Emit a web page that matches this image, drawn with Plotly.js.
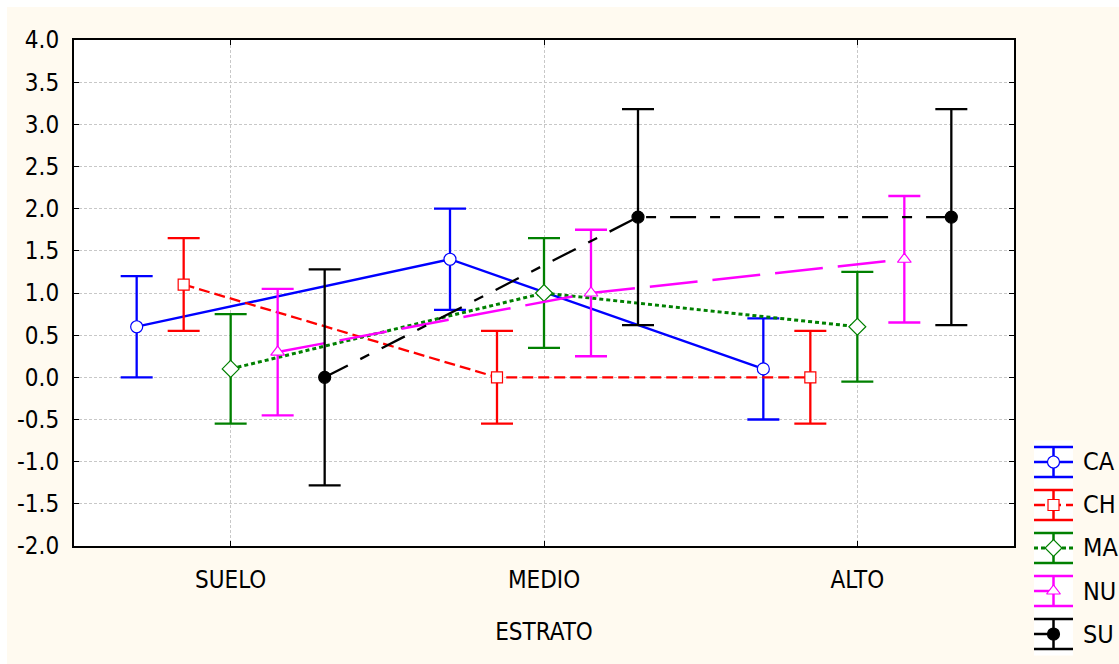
<!DOCTYPE html>
<html>
<head>
<meta charset="utf-8">
<script src="https://cdn.plot.ly/plotly-3.0.1.min.js"></script>
<style>
html,body{margin:0;padding:0;background:#ffffff;}
#chart{width:1119px;height:664px;}
</style>
</head>
<body>
<div id="chart"></div>
<script>
// ---- data ----
const categories = ["SUELO", "MEDIO", "ALTO"];
const seriesNames = ["CA", "CH", "MA", "NU", "SU"];
const meanCA = [0.6, 1.4, 0.1];
const errCA  = [0.6, 0.6, 0.6];
const meanCH = [1.1, 0.0, 0.0];
const errCH  = [0.55, 0.55, 0.55];
const meanMA = [0.1, 1.0, 0.6];
const errMA  = [0.65, 0.65, 0.65];
const meanNU = [0.3, 1.0, 1.4];
const errNU  = [0.75, 0.75, 0.75];
const meanSU = [0.0, 1.9, 1.9];
const errSU  = [1.28, 1.28, 1.28];
const yTickVals = [-2, -1.5, -1, -0.5, 0, 0.5, 1, 1.5, 2, 2.5, 3, 3.5, 4];

// ---- styles ----
const FONT = '"Liberation Sans Narrow", "Arial Narrow", "DejaVu Sans Condensed", "Liberation Sans", sans-serif';
const offsets = [-0.3, -0.15, 0, 0.15, 0.3];
const styles = [
  {color:'#0000ff', dash:'solid', width:2.3, symbol:'circle', fill:'#ffffff', size:12},
  {color:'#ff0000', dash:'11px,5px', width:2.3, symbol:'square', fill:'#ffffff', size:11},
  {color:'#008000', dash:'4px,3px', width:3, symbol:'diamond', fill:'#ffffff', size:13},
  {color:'#ff00ff', dash:'48px,15px', width:2.5, symbol:'triangle-up', fill:'#ffffff', size:12},
  {color:'#000000', dash:'26px,14px,10px,14px', width:2.3, symbol:'circle', fill:'#000000', size:12}
];
const means = [meanCA, meanCH, meanMA, meanNU, meanSU];
const errs = [errCA, errCH, errMA, errNU, errSU];

const traces = [];
means.forEach((m, i) => {
  const st = styles[i];
  traces.push({
    type:'scatter', mode:'lines+markers',
    x: categories.map((c, k) => k + offsets[i]),
    y: m,
    xaxis:'x', yaxis:'y',
    line:{color:st.color, dash:st.dash, width:st.width},
    marker:{symbol:st.symbol, size:st.size, color:st.fill, line:{color:st.color, width:1.2}},
    error_y:{type:'data', array:errs[i], visible:true, color:st.color, thickness:2.3, width:16},
    showlegend:false, hoverinfo:'skip', cliponaxis:false
  });
});

// ---- hand-built legend (error-bar symbols) ----
const legendLineX = [[0,0.5,1],[0,0.5,1],[0,0.5,1],[0,0.5],[0,0.5]];
const annotations = [];
seriesNames.forEach((name, i) => {
  const st = styles[i];
  traces.push({
    type:'scatter', mode:'lines', xaxis:'x2', yaxis:'y2',
    x: legendLineX[i], y: legendLineX[i].map(() => i),
    line:{color:st.color, dash:st.dash, width:st.width},
    showlegend:false, hoverinfo:'skip'
  });
  traces.push({
    type:'scatter', mode:'markers', xaxis:'x2', yaxis:'y2',
    x:[0.5], y:[i],
    marker:{symbol:st.symbol, size:st.size, color:st.fill, line:{color:st.color, width:1.2}},
    error_y:{type:'constant', value:0.35, visible:true, color:st.color, thickness:2.5, width:20},
    showlegend:false, hoverinfo:'skip', cliponaxis:false
  });
  annotations.push({
    xref:'x2', yref:'y2', x:1, y:i, xanchor:'left', yanchor:'middle', xshift:8,
    text:name, showarrow:false, font:{family:FONT, size:25, color:'#000000'}
  });
});

const layout = {
  width:1119, height:664,
  margin:{l:74, r:10, t:40, b:5, pad:0},
  paper_bgcolor:'#fffaf0',
  plot_bgcolor:'#ffffff',
  showlegend:false,
  font:{family:FONT, size:24, color:'#000000'},
  xaxis:{
    domain:[0, 0.90821],
    range:[-0.5, 2.5],
    tickmode:'array', tickvals:categories.map((c,k)=>k), ticktext:categories,
    ticks:'inside', ticklen:5, tickwidth:1, tickcolor:'#000000',
    showline:true, linecolor:'#000000', linewidth:2, mirror:'ticks',
    showgrid:true, gridcolor:'#c8c8c8', griddash:'3px,2px', gridwidth:1,
    zeroline:false,
    ticklabelstandoff:11,
    tickfont:{family:FONT, size:24},
    title:{text:'ESTRATO', font:{family:FONT, size:24}, standoff:30},
    fixedrange:true
  },
  yaxis:{
    domain:[0.18255, 1],
    range:[-2, 4],
    tickmode:'array', tickvals:yTickVals, ticktext:yTickVals.map(v=>v.toFixed(1)),
    ticks:'inside', ticklen:5, tickwidth:1, tickcolor:'#000000',
    showline:true, linecolor:'#000000', linewidth:2, mirror:'ticks',
    showgrid:true, gridcolor:'#c8c8c8', griddash:'3px,2px', gridwidth:1,
    zeroline:false,
    ticklabelstandoff:8,
    tickfont:{family:FONT, size:24},
    fixedrange:true
  },
  xaxis2:{domain:[0.92754, 0.96522], anchor:'y2', range:[0,1], visible:false, fixedrange:true},
  yaxis2:{domain:[0.00565, 0.353], anchor:'x2', range:[4.5,-0.5], visible:false, fixedrange:true},
  annotations:annotations,
  shapes:[
    {type:'rect', xref:'paper', yref:'paper', x0:-0.08, x1:-0.0647, y0:-0.05, y1:1.08, fillcolor:'#ffffff', line:{width:0}, layer:'below'},
    {type:'rect', xref:'paper', yref:'paper', x0:-0.08, x1:1.02, y0:1.0533, y1:1.08, fillcolor:'#ffffff', line:{width:0}, layer:'below'}
  ]
};

Plotly.newPlot('chart', traces, layout, {staticPlot:true, displayModeBar:false});
</script>
</body>
</html>
